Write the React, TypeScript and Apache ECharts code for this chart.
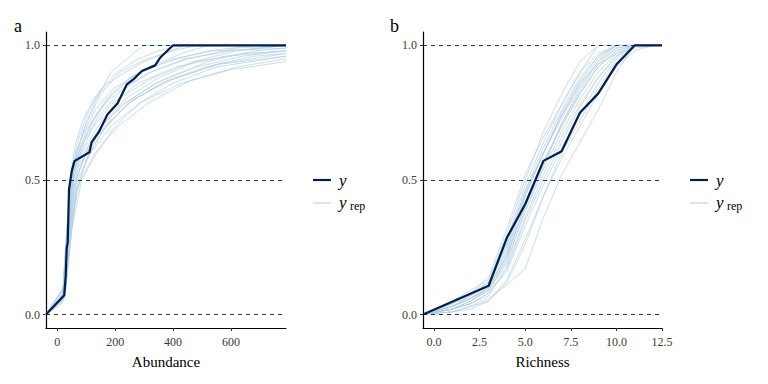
import React, { useEffect, useRef } from "react";
import * as echarts from "echarts";

// ---------- data ----------
const abundanceRange = [-39, 790];
const richnessRange = [-0.6, 12.5];
const abundanceTicks = [0, 200, 400, 600];
const richnessTicks = [0, 2.5, 5, 7.5, 10, 12.5];
const yTicks = [0, 0.5, 1];
const refLines = [0, 0.5, 1];

// observed ECDF, abundance
const abundanceObs: number[][] = [
  [24, 0.072], [29, 0.142], [32.5, 0.248], [36, 0.267], [40.5, 0.465], [50, 0.533],
  [59, 0.57], [111, 0.603], [119, 0.641], [145, 0.681], [173, 0.743], [208, 0.784],
  [240, 0.855], [263, 0.874], [292, 0.905], [338, 0.926], [355, 0.954], [399, 1.0],
];

// replicated ECDFs, abundance
const abundanceRep: number[][][] = [
  [[18, 0.07], [30, 0.25], [45, 0.5], [65, 0.6], [95, 0.7], [135, 0.8], [185, 0.9], [240, 0.95], [297, 1]],
  [[22, 0.07], [35, 0.25], [55, 0.5], [85, 0.6], [140, 0.7], [210, 0.8], [330, 0.88], [470, 0.94], [620, 0.98], [790, 1]],
  [[25, 0.1], [40, 0.3], [62, 0.5], [100, 0.6], [165, 0.7], [250, 0.79], [380, 0.87], [560, 0.93], [790, 0.96]],
  [[20, 0.05], [33, 0.28], [50, 0.5], [75, 0.6], [115, 0.7], [170, 0.8], [250, 0.88], [340, 0.93], [430, 0.97], [520, 1]],
  [[28, 0.08], [45, 0.3], [70, 0.5], [115, 0.6], [185, 0.7], [290, 0.79], [430, 0.86], [600, 0.91], [790, 0.94]],
  [[15, 0.04], [30, 0.2], [48, 0.5], [72, 0.62], [105, 0.72], [150, 0.82], [215, 0.9], [310, 0.95], [400, 0.98], [480, 1]],
  [[26, 0.1], [38, 0.27], [58, 0.5], [92, 0.6], [150, 0.7], [240, 0.79], [360, 0.87], [520, 0.94], [680, 0.98], [790, 0.99]],
  [[22, 0.06], [42, 0.3], [66, 0.5], [105, 0.62], [165, 0.72], [245, 0.81], [350, 0.88], [480, 0.94], [640, 0.97], [790, 0.98]],
  [[30, 0.12], [48, 0.35], [80, 0.5], [130, 0.6], [210, 0.7], [320, 0.79], [460, 0.87], [620, 0.92], [790, 0.95]],
  [[18, 0.06], [32, 0.3], [52, 0.52], [82, 0.63], [128, 0.73], [190, 0.82], [270, 0.89], [380, 0.94], [520, 0.98], [680, 1]],
  [[24, 0.08], [36, 0.22], [60, 0.48], [90, 0.58], [145, 0.69], [225, 0.78], [340, 0.86], [480, 0.92], [640, 0.96], [790, 0.98]],
  [[20, 0.09], [34, 0.32], [54, 0.55], [85, 0.66], [130, 0.76], [195, 0.84], [285, 0.9], [400, 0.95], [540, 0.98], [790, 0.99]],
  [[27, 0.07], [44, 0.26], [68, 0.47], [110, 0.6], [175, 0.71], [265, 0.8], [390, 0.87], [550, 0.93], [790, 0.97]],
  [[16, 0.05], [28, 0.24], [44, 0.5], [62, 0.63], [88, 0.72], [125, 0.8], [175, 0.86], [235, 0.9], [300, 0.94], [370, 0.97], [440, 1]],
  [[23, 0.07], [37, 0.3], [57, 0.53], [92, 0.64], [145, 0.74], [220, 0.83], [320, 0.9], [450, 0.95], [620, 0.99], [790, 1]],
  [[29, 0.09], [50, 0.32], [85, 0.5], [135, 0.6], [200, 0.7], [290, 0.79], [400, 0.86], [550, 0.92], [790, 0.96]],
  [[21, 0.08], [34, 0.27], [52, 0.49], [78, 0.59], [120, 0.69], [185, 0.78], [280, 0.86], [410, 0.92], [580, 0.96], [790, 0.98]],
  [[19, 0.07], [31, 0.26], [47, 0.52], [70, 0.64], [102, 0.74], [145, 0.83], [205, 0.9], [280, 0.95], [350, 0.98], [420, 1]],
  [[25, 0.06], [40, 0.22], [64, 0.45], [98, 0.57], [155, 0.68], [240, 0.78], [360, 0.86], [510, 0.92], [680, 0.96], [790, 0.97]],
  [[24, 0.1], [39, 0.33], [61, 0.56], [98, 0.68], [150, 0.77], [225, 0.84], [320, 0.9], [440, 0.95], [600, 0.98], [790, 1]],
];

// observed ECDF, richness
const richnessObs: number[][] = [
  [3, 0.107], [4, 0.286], [5, 0.41], [6, 0.571], [7, 0.607], [8, 0.75], [9, 0.821], [10, 0.929], [11, 1.0],
];

// replicated ECDFs, richness (values at richnessX)
const richnessX = [1, 2, 3, 4, 5, 6, 7, 8, 9, 10, 11, 12];
const richnessRep: number[][] = [
  [0.03, 0.06, 0.1, 0.22, 0.4, 0.56, 0.7, 0.82, 0.92, 0.98, 1, 1],
  [0.04, 0.08, 0.14, 0.32, 0.52, 0.66, 0.78, 0.9, 1, 1, 1, 1],
  [0.02, 0.04, 0.07, 0.18, 0.36, 0.52, 0.66, 0.78, 0.88, 0.96, 1, 1],
  [0.03, 0.07, 0.12, 0.26, 0.46, 0.6, 0.74, 0.86, 0.95, 1, 1, 1],
  [0.01, 0.03, 0.05, 0.12, 0.26, 0.44, 0.6, 0.72, 0.84, 0.94, 1, 1],
  [0.05, 0.09, 0.13, 0.3, 0.5, 0.68, 0.82, 0.94, 1, 1, 1, 1],
  [0.02, 0.05, 0.09, 0.2, 0.38, 0.54, 0.68, 0.8, 0.9, 0.97, 1, 1],
  [0.03, 0.06, 0.11, 0.24, 0.44, 0.6, 0.73, 0.85, 0.94, 0.99, 1, 1],
  [0.02, 0.04, 0.08, 0.16, 0.33, 0.48, 0.62, 0.74, 0.86, 0.95, 1, 1],
  [0.04, 0.07, 0.12, 0.28, 0.48, 0.64, 0.78, 0.9, 0.97, 1, 1, 1],
  [0.02, 0.05, 0.1, 0.22, 0.42, 0.57, 0.7, 0.82, 0.92, 0.98, 1, 1],
  [0.03, 0.06, 0.09, 0.19, 0.39, 0.55, 0.71, 0.84, 0.94, 1, 1, 1],
  [0.01, 0.02, 0.05, 0.13, 0.28, 0.44, 0.58, 0.7, 0.82, 0.92, 0.98, 1],
  [0.04, 0.08, 0.12, 0.25, 0.45, 0.6, 0.75, 0.87, 0.96, 1, 1, 1],
  [0.02, 0.05, 0.09, 0.21, 0.41, 0.56, 0.71, 0.83, 0.93, 0.99, 1, 1],
  [0.03, 0.06, 0.1, 0.23, 0.44, 0.6, 0.74, 0.86, 0.93, 0.97, 0.99, 1],
  [0.02, 0.04, 0.08, 0.17, 0.35, 0.5, 0.64, 0.77, 0.88, 0.96, 1, 1],
  [0.03, 0.07, 0.11, 0.27, 0.46, 0.62, 0.76, 0.88, 0.96, 1, 1, 1],
  [0.01, 0.03, 0.06, 0.11, 0.17, 0.36, 0.52, 0.64, 0.76, 0.9, 1, 1],
];

// ---------- styling ----------
const DARK = "#011f4b";
const LIGHT = "#b3cde0";
const FONT = "Liberation Serif";

function pad(points: number[][], range: number[]): number[][] {
  const out = [[range[0], 0], ...points];
  const last = out[out.length - 1];
  if (last[0] < range[1]) out.push([range[1], last[1]]);
  return out;
}

function xAxisCfg(idx: number, range: number[], ticks: number[], name: string, fmt: (v: number) => string) {
  return {
    type: "value",
    gridIndex: idx,
    min: range[0],
    max: range[1],
    name,
    nameLocation: "middle",
    nameGap: 26,
    nameTextStyle: { fontFamily: FONT, fontSize: 15, color: "#000" },
    axisLine: { show: true, onZero: false, lineStyle: { color: "#000", width: 1.2 } },
    axisTick: { show: true, length: 3, customValues: ticks, lineStyle: { color: "#333" } },
    axisLabel: { customValues: ticks, fontFamily: FONT, fontSize: 12, color: "#3a3a3a", margin: 8, formatter: fmt },
    splitLine: { show: false },
  };
}

function yAxisCfg(idx: number) {
  return {
    type: "value",
    gridIndex: idx,
    min: -0.05,
    max: 1.05,
    axisLine: { show: true, onZero: false, lineStyle: { color: "#000", width: 1.2 } },
    axisTick: { show: true, length: 3, customValues: yTicks, lineStyle: { color: "#333" } },
    axisLabel: { customValues: yTicks, fontFamily: FONT, fontSize: 12, color: "#3a3a3a", margin: 6, formatter: (v: number) => v.toFixed(1) },
    splitLine: { show: false },
  };
}

function refSeries(idx: number) {
  return {
    type: "line",
    xAxisIndex: idx,
    yAxisIndex: idx,
    data: [],
    silent: true,
    markLine: {
      silent: true,
      symbol: ["none", "none"],
      label: { show: false },
      lineStyle: { type: [4, 4], color: DARK, width: 0.9 },
      data: refLines.map((v) => ({ yAxis: v })),
    },
  };
}

function lineSeries(idx: number, data: number[][], dark: boolean) {
  return {
    type: "line",
    xAxisIndex: idx,
    yAxisIndex: idx,
    data,
    showSymbol: false,
    symbol: "none",
    silent: true,
    lineStyle: dark ? { color: DARK, width: 2.2 } : { color: LIGHT, width: 0.8, opacity: 0.85 },
  };
}

function legend(x: number) {
  return [
    { type: "line", shape: { x1: x, y1: 180, x2: x + 18, y2: 180 }, style: { stroke: DARK, lineWidth: 2.2 } },
    { type: "text", x: x + 26, y: 180, style: { text: "y", fontFamily: FONT, fontStyle: "italic", fontSize: 17, fill: "#000", verticalAlign: "middle" } },
    { type: "line", shape: { x1: x, y1: 203, x2: x + 18, y2: 203 }, style: { stroke: LIGHT, lineWidth: 1 } },
    { type: "text", x: x + 26, y: 202, style: { text: "y", fontFamily: FONT, fontStyle: "italic", fontSize: 17, fill: "#000", verticalAlign: "middle" } },
    { type: "text", x: x + 37, y: 206, style: { text: "rep", fontFamily: FONT, fontSize: 12, fill: "#000", verticalAlign: "middle" } },
  ];
}

export default function App() {
  const ref = useRef<HTMLDivElement>(null);
  useEffect(() => {
    if (!ref.current) return;
    const chart = echarts.init(ref.current, null, { renderer: "svg" });
    const series: any[] = [];
    series.push(refSeries(0));
    abundanceRep.forEach((c) => series.push(lineSeries(0, pad(c, abundanceRange), false)));
    series.push(lineSeries(0, pad(abundanceObs, abundanceRange), true));
    series.push(refSeries(1));
    richnessRep.forEach((c) =>
      series.push(lineSeries(1, pad(richnessX.map((x, i) => [x, c[i]]), richnessRange), false))
    );
    series.push(lineSeries(1, pad(richnessObs, richnessRange), true));

    chart.setOption({
      animation: false,
      backgroundColor: "#fff",
      grid: [
        { left: 46, top: 32, width: 240, height: 296 },
        { left: 423, top: 32, width: 239, height: 296 },
      ],
      xAxis: [
        xAxisCfg(0, abundanceRange, abundanceTicks, "Abundance", (v) => String(v)),
        xAxisCfg(1, richnessRange, richnessTicks, "Richness", (v) => v.toFixed(1)),
      ],
      yAxis: [yAxisCfg(0), yAxisCfg(1)],
      series,
      graphic: [
        { type: "text", x: 14, y: 26, style: { text: "a", fontFamily: FONT, fontSize: 18, fill: "#000", verticalAlign: "middle" } },
        { type: "text", x: 390, y: 26, style: { text: "b", fontFamily: FONT, fontSize: 18, fill: "#000", verticalAlign: "middle" } },
        ...legend(313),
        ...legend(690),
      ],
    });
    return () => chart.dispose();
  }, []);
  return <div ref={ref} style={{ position: "fixed", left: 0, top: 0, width: 768, height: 384 }} />;
}
